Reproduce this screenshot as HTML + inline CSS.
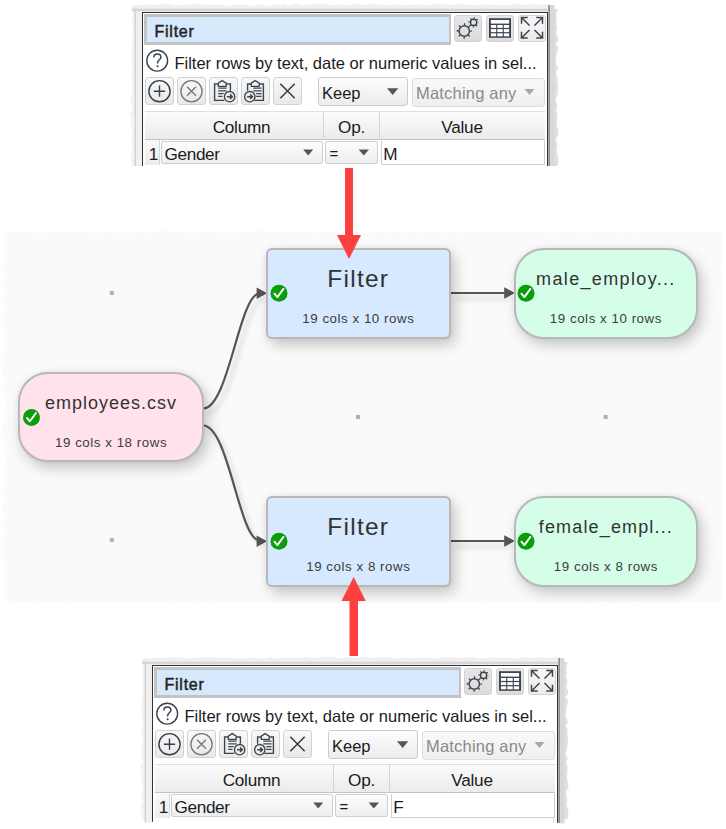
<!DOCTYPE html>
<html><head><meta charset="utf-8">
<style>
*{box-sizing:border-box}
html,body{margin:0;padding:0}
body{width:726px;height:829px;background:#fff;position:relative;overflow:hidden;font-family:"Liberation Sans",sans-serif}
.a{position:absolute}
.node{position:absolute;border:2px solid #b8b8b8;box-shadow:4px 6px 14px rgba(0,0,0,0.21),0 0 5px rgba(0,0,0,0.05)}
.ttl{position:absolute;left:0;right:0;text-align:center;color:#333;white-space:nowrap;line-height:1}
.sub{position:absolute;left:0;right:0;text-align:center;color:#3c3c3c;font-size:13.3px;letter-spacing:0.55px;white-space:nowrap;line-height:1}
.chk{position:absolute;width:17px;height:17px}
.panel .btn{position:absolute;border:1px solid #d2d2d2;border-radius:3px;background:linear-gradient(#f8f8f8,#e9e9e9)}
.panel .txt{position:absolute;white-space:nowrap;color:#1b1b1b;font-size:16px;line-height:1}
</style></head><body>

<!-- diagram background -->
<svg class="a" style="left:0;top:0" width="726" height="829">
  <polygon fill="#fafafa" points="4.0,231.6 6.9,232.4 9.5,232.1 13.1,230.9 17.1,230.9 20.9,231.0 23.6,231.8 28.6,231.1 31.7,232.3 37.2,232.2 40.8,233.1 43.4,232.9 46.7,231.1 49.5,231.5 54.5,231.2 58.8,232.3 62.4,232.1 65.0,230.9 68.0,232.4 71.8,231.6 76.1,231.9 79.4,232.7 84.1,231.4 88.3,232.1 93.5,232.6 96.8,233.2 99.6,231.8 104.4,231.2 108.4,230.9 112.9,232.6 117.2,232.9 120.6,232.5 124.9,232.2 128.7,232.8 134.2,231.9 138.7,230.9 143.3,232.4 148.9,232.8 152.2,231.7 156.7,230.9 160.6,231.2 163.4,230.9 168.3,231.1 171.5,231.7 176.6,231.0 180.5,232.1 185.7,232.8 190.9,231.5 194.6,231.7 199.8,233.1 202.7,231.2 205.9,231.4 209.8,232.2 213.0,230.8 216.8,231.7 221.0,233.1 225.6,232.0 230.0,232.4 232.6,233.0 237.5,232.9 242.4,231.7 246.1,231.0 250.5,230.9 253.1,231.3 256.0,231.6 258.6,230.8 261.5,231.0 265.1,230.9 270.3,232.3 273.1,231.4 276.6,231.7 279.4,232.8 285.0,231.9 289.0,231.0 291.7,231.6 294.9,232.8 297.9,230.9 303.3,232.1 306.2,232.1 308.7,232.1 314.2,232.9 318.8,231.4 322.4,231.2 327.3,232.1 332.2,231.6 335.3,232.7 340.8,232.8 345.8,232.8 350.6,231.3 354.6,231.7 357.1,230.9 360.4,231.4 365.0,233.1 368.9,233.0 374.4,233.1 378.0,231.3 381.1,231.3 384.2,232.3 389.4,232.8 393.4,232.4 398.3,231.0 402.9,233.0 407.8,232.6 411.7,231.2 416.6,231.6 421.6,233.1 425.2,231.8 430.7,232.5 433.6,231.1 436.5,233.0 441.5,231.2 446.5,233.2 451.0,231.6 455.2,231.1 457.6,233.1 462.1,232.1 467.5,231.8 472.7,232.8 475.8,231.4 479.1,231.4 483.4,231.4 487.1,231.1 492.4,231.6 496.3,232.2 501.6,231.8 506.9,232.0 511.0,232.1 513.5,231.9 516.5,230.8 521.4,231.2 525.3,232.5 529.5,231.6 533.6,232.1 538.5,231.1 542.7,231.4 546.0,232.7 550.0,232.1 554.8,233.0 558.6,232.3 562.7,232.0 567.3,231.9 571.4,231.9 576.8,232.5 582.0,233.1 585.2,232.1 590.7,232.8 593.5,231.1 597.3,231.0 600.5,231.0 605.0,232.7 610.3,231.2 615.0,232.4 617.8,232.9 623.3,231.3 628.8,231.8 632.7,233.2 637.8,231.2 641.6,232.0 645.1,231.3 648.5,232.5 651.0,232.1 654.8,230.8 658.2,232.3 662.3,231.0 667.8,232.7 673.3,231.1 676.6,230.9 681.5,231.4 684.3,231.8 689.6,232.8 692.8,231.2 698.2,232.2 702.8,231.0 705.4,232.5 709.2,231.0 714.6,232.3 719.5,231.0 722.0,231.0 722.9,232.0 721.6,235.9 723.0,240.0 721.1,243.3 721.4,247.4 721.2,250.1 721.3,252.7 721.5,256.1 721.5,260.9 721.2,264.9 720.8,268.4 720.8,271.6 722.1,276.4 721.9,279.4 721.1,284.8 721.8,289.8 722.8,293.8 722.0,297.4 723.2,302.0 722.8,305.5 722.3,310.2 721.6,313.9 721.1,316.5 722.6,319.1 721.2,322.3 722.8,325.0 722.4,330.2 721.4,333.5 721.9,336.8 721.9,339.7 723.1,342.9 722.1,348.5 723.1,351.6 721.7,355.0 721.7,357.4 722.0,361.3 722.0,364.4 721.4,366.8 721.8,369.5 720.9,372.0 721.4,375.4 722.1,379.7 722.4,384.5 722.9,389.2 721.6,392.8 721.2,398.4 722.3,403.1 722.8,405.6 722.3,410.9 722.7,415.6 722.1,418.5 722.8,422.5 722.8,427.5 722.9,431.7 722.5,436.3 720.9,439.4 721.7,442.3 722.8,445.0 722.3,449.2 722.4,453.6 720.8,457.6 722.6,462.5 722.1,466.5 721.0,471.0 721.4,475.8 721.4,478.4 721.3,483.2 723.1,487.9 721.7,491.9 722.4,495.8 722.3,500.7 721.0,505.2 721.4,508.0 721.5,512.8 720.8,517.0 721.4,519.6 722.5,524.2 721.5,528.7 721.9,532.8 721.1,536.7 721.3,541.9 723.0,547.5 721.9,549.9 723.1,554.9 721.4,558.8 723.1,561.9 722.2,564.9 722.1,567.8 721.1,573.2 722.0,578.3 722.5,583.5 723.0,586.6 720.9,590.6 722.0,593.0 721.5,596.8 721.6,599.7 722.8,602.0 722.0,602.3 721.5,600.8 718.6,601.9 713.4,601.8 708.4,601.8 703.1,600.8 700.0,602.5 697.0,601.7 691.4,602.9 687.7,601.7 683.5,601.5 678.0,601.5 674.7,601.8 670.1,601.2 667.4,602.3 663.2,601.7 660.5,601.0 656.4,602.7 653.3,601.5 650.3,602.4 646.9,600.8 643.8,602.4 639.5,601.4 636.4,601.1 632.9,601.3 628.5,602.2 625.7,603.1 620.9,601.4 617.0,602.9 613.4,603.0 609.2,603.1 606.2,601.1 602.8,600.9 597.5,602.8 592.5,601.9 589.7,603.2 585.2,602.7 582.1,602.0 576.5,601.8 573.1,602.2 567.9,601.2 564.7,601.4 561.6,602.6 558.0,602.2 554.7,602.8 551.9,602.4 546.8,602.6 542.2,602.3 538.5,601.4 534.7,602.5 530.7,601.0 528.0,601.4 522.5,602.9 516.9,601.6 512.7,600.9 510.1,601.4 505.3,601.3 502.7,602.7 499.1,601.6 495.7,602.3 490.8,602.8 486.0,602.7 483.1,603.0 479.1,601.8 475.9,601.7 470.4,603.1 466.5,601.4 464.0,603.1 459.6,603.0 454.8,600.8 451.5,601.6 446.8,601.4 442.4,603.1 439.2,601.6 433.9,602.6 430.7,603.0 428.1,600.9 425.5,602.6 420.5,601.8 418.0,603.0 414.5,601.3 409.1,601.7 405.2,600.9 401.4,602.8 396.4,601.7 393.3,603.1 390.5,603.1 387.0,601.5 384.6,601.2 381.1,601.7 377.5,602.4 375.0,602.6 369.6,601.2 366.2,603.0 360.6,602.6 355.4,603.0 351.7,600.9 349.1,601.1 343.6,601.3 340.0,601.2 334.5,602.4 330.8,601.3 327.8,602.0 322.3,601.5 317.5,601.3 314.4,602.8 311.0,603.1 307.9,602.0 303.1,602.7 300.1,602.4 296.4,601.6 293.9,601.3 288.5,602.4 285.3,601.8 280.7,602.0 278.2,601.5 273.6,603.1 270.4,601.4 266.5,602.9 262.0,603.1 258.1,601.5 255.7,602.2 252.6,601.7 248.3,602.1 245.7,601.1 241.1,602.3 237.9,601.1 234.5,602.3 229.1,601.4 224.2,600.9 220.1,601.9 215.2,602.4 210.5,603.1 205.9,602.1 203.0,601.1 199.9,603.1 194.7,602.8 189.3,601.7 186.9,602.2 183.0,602.9 178.4,600.9 175.9,602.9 170.8,603.1 166.9,601.8 163.8,601.5 160.7,602.9 156.2,602.0 153.4,603.1 150.2,600.9 146.7,601.7 142.6,601.8 138.9,602.6 133.6,602.2 130.4,601.4 127.7,601.6 125.0,601.3 122.2,601.9 116.6,603.0 113.5,602.0 108.2,601.3 105.3,601.2 101.6,602.1 98.2,602.4 95.0,603.1 90.3,601.5 86.8,601.9 83.9,603.0 81.4,601.5 76.9,602.6 73.1,602.6 70.5,602.5 66.4,603.1 61.0,602.3 56.0,602.9 50.6,601.7 47.6,602.0 44.3,601.4 38.9,601.5 33.9,601.0 31.3,601.5 27.5,601.7 23.3,603.2 19.6,601.7 16.3,603.0 11.6,603.0 8.8,602.8 4.0,600.8 3.2,602.0 4.1,600.6 5.2,598.1 4.7,594.9 3.8,589.5 3.6,585.0 4.4,580.8 3.3,578.4 4.8,574.7 4.4,569.5 2.9,566.8 5.3,563.6 3.9,560.8 3.1,556.4 4.3,552.1 3.6,549.0 3.6,546.3 2.6,543.9 3.2,539.4 5.2,536.5 3.8,532.5 2.9,528.1 2.5,525.6 4.5,522.2 5.5,518.0 3.3,513.5 2.6,508.5 3.0,503.7 4.8,499.9 4.2,496.3 3.3,490.8 3.7,485.8 5.5,481.4 5.1,478.7 4.2,474.4 3.6,469.2 4.1,464.8 4.9,462.0 5.2,459.1 5.3,454.5 3.0,451.6 3.5,449.1 3.3,445.0 5.3,442.0 2.9,438.0 3.3,433.0 3.0,427.7 3.6,422.9 5.3,420.3 3.0,415.3 5.4,410.0 5.4,406.0 4.9,403.0 5.5,398.3 2.9,393.1 3.6,387.7 2.7,383.7 4.8,379.6 2.7,374.9 2.6,370.5 3.8,366.4 3.8,363.7 2.8,360.9 3.0,357.0 4.8,353.1 3.2,348.3 4.4,344.3 3.8,341.8 4.5,338.0 4.2,334.3 3.4,330.5 4.2,326.1 2.9,321.8 2.6,316.7 4.2,311.9 5.2,309.4 3.2,304.6 3.7,301.8 3.7,297.8 3.0,294.7 5.0,289.6 3.2,285.9 3.0,281.0 4.4,276.0 3.7,270.7 2.7,265.3 5.4,261.4 2.9,256.0 5.4,252.9 4.0,248.0 5.3,245.2 3.3,241.1 4.0,238.3 4.4,234.7 5.2,232.0"/>
  <!-- grid dots -->
  <rect x="109.8" y="291" width="4" height="4" fill="#b0b0b0"/>
  <rect x="109.8" y="538.1" width="4" height="4" fill="#b0b0b0"/>
  <rect x="356" y="415" width="4" height="4" fill="#b0b0b0"/>
  <rect x="603.7" y="415" width="4" height="4" fill="#b0b0b0"/>
  <!-- edges -->
  <defs><filter id="esh" x="-20%" y="-20%" width="140%" height="140%"><feGaussianBlur stdDeviation="2.5"/></filter></defs>
  <g fill="none" stroke="rgba(0,0,0,0.13)" stroke-width="3" filter="url(#esh)" transform="translate(4,5)">
    <path d="M203,408.5 C229,408.5 239,293.2 260,293.2"/>
    <path d="M203,425.5 C229,425.5 239,540.8 260,540.8"/>
    <path d="M451,293 L507,293"/>
    <path d="M451,541 L507,541"/>
  </g>
  <g fill="none" stroke="#555" stroke-width="2.2">
    <path d="M203,408.5 C229,408.5 239,293.2 260,293.2"/>
    <path d="M203,425.5 C229,425.5 239,540.8 260,540.8"/>
    <path d="M451,293 L507,293"/>
    <path d="M451,541 L507,541"/>
  </g>
  <g fill="#555">
    <polygon points="256.6,287.4 267.2,293.2 256.6,299"/>
    <polygon points="256.6,535.4 267.2,541.2 256.6,547"/>
    <polygon points="504.2,287.2 514.8,293 504.2,298.8"/>
    <polygon points="504.2,535.2 514.8,541 504.2,546.8"/>
  </g>
</svg>

<!-- nodes -->
<div class="node" style="left:18.3px;top:371.6px;width:185.5px;height:90.6px;border-radius:30px;background:#ffe2eb">
  <div class="ttl" style="top:20.5px;font-size:18px;letter-spacing:1px">employees.csv</div>
  <div class="sub" style="top:62.9px">19 cols x 18 rows</div>
</div>
<div class="node" style="left:265.6px;top:247.6px;width:185.4px;height:91px;border-radius:6px;background:#d6e9fe">
  <div class="ttl" style="top:17.2px;font-size:24.5px;letter-spacing:1.25px">Filter</div>
  <div class="sub" style="top:62.9px">19 cols x 10 rows</div>
</div>
<div class="node" style="left:513.6px;top:247.6px;width:184.6px;height:91px;border-radius:30px;background:#d5fee9">
  <div class="ttl" style="top:20.3px;font-size:18px;letter-spacing:1.35px">male_employ...</div>
  <div class="sub" style="top:62.9px">19 cols x 10 rows</div>
</div>
<div class="node" style="left:265.6px;top:495.6px;width:185.4px;height:91px;border-radius:6px;background:#d6e9fe">
  <div class="ttl" style="top:17.2px;font-size:24.5px;letter-spacing:1.25px">Filter</div>
  <div class="sub" style="top:62.9px">19 cols x 8 rows</div>
</div>
<div class="node" style="left:513.6px;top:495.6px;width:184.6px;height:91px;border-radius:30px;background:#d5fee9">
  <div class="ttl" style="top:20px;font-size:18px;letter-spacing:1.15px">female_empl...</div>
  <div class="sub" style="top:62.9px">19 cols x 8 rows</div>
</div>

<!-- check icons -->
<svg class="a" style="left:0;top:0" width="726" height="829">
  <defs><g id="ck"><circle cx="0" cy="0" r="8.5" fill="#0a9e0a"/><path d="M-4.6,0.4 L-1.6,3.8 L4.4,-4.4" fill="none" stroke="#fff" stroke-width="1.9" stroke-linecap="round" stroke-linejoin="round"/></g></defs>
  <use href="#ck" x="31.5" y="417.5"/>
  <use href="#ck" x="279" y="293.3"/>
  <use href="#ck" x="526" y="293.3"/>
  <use href="#ck" x="279" y="541.3"/>
  <use href="#ck" x="526" y="541.3"/>
  <!-- red arrows -->
  <g fill="#fc4040">
    <rect x="345" y="168" width="8" height="68"/>
    <polygon points="337,235 361,235 349,259"/>
    <rect x="349.5" y="600" width="8.5" height="56"/>
    <polygon points="341.5,601 365.8,601 353.6,577"/>
  </g>
</svg>

<!-- PANELS inserted below -->
<div class="panel a" style="left:0;top:0;width:726px;height:180px">
<svg class="a" style="left:0;top:0" width="726" height="180">
  <!-- torn shadow backdrop -->
  <polygon fill="#f0f0f0" points="132,6 136.0,4.7 141.2,5.6 146.1,4.8 151.5,4.2 156.5,5.0 162.7,4.1 166.9,4.1 173.1,5.1 176.3,5.7 183.1,5.1 188.6,4.2 191.7,4.9 194.9,4.2 198.9,4.0 203.7,4.7 210.1,4.8 215.7,4.8 221.3,4.7 225.4,5.7 232.4,5.4 238.2,4.5 242.2,4.4 245.4,5.3 250.0,5.4 254.6,5.6 261.0,3.9 264.8,5.5 269.7,5.7 274.3,4.0 279.8,5.3 283.9,4.1 288.2,5.6 294.2,4.1 298.2,4.1 301.5,5.3 305.2,4.9 310.0,4.2 315.9,4.1 321.5,4.1 326.2,4.3 330.2,5.6 336.4,4.4 343.0,4.3 347.6,5.4 353.1,4.1 360.1,4.3 364.1,5.3 368.4,4.4 371.7,4.1 377.1,4.3 382.5,4.6 387.3,5.6 392.2,4.9 398.7,4.2 402.3,5.5 408.6,4.3 412.3,5.2 419.1,4.3 425.9,5.5 431.3,4.7 434.7,4.0 441.6,4.3 447.4,4.4 453.7,5.0 457.9,4.2 463.7,4.0 467.7,4.9 474.1,5.0 478.2,5.6 482.0,3.9 486.1,4.7 489.3,4.2 493.8,4.9 497.3,4.6 503.9,5.7 509.5,5.1 514.8,4.2 518.0,3.9 524.6,5.2 531.5,3.9 537.0,4.8 542.9,4.5 549.0,4.0 549.0,12.0 132,12"/>
  <polygon fill="#f3f3f3" points="131.6,9.0 132.8,14.9 132.2,20.9 132.8,27.1 132.1,31.5 132.7,38.1 132.4,42.7 131.7,49.2 131.1,54.7 131.8,60.0 131.9,63.4 132.7,70.3 131.1,76.2 131.8,82.2 132.6,86.9 132.3,90.3 131.8,93.4 130.6,98.3 131.5,104.1 132.8,109.6 129.9,113.6 132.1,117.8 130.4,121.6 132.0,128.2 132.8,133.0 132.0,137.3 131.3,141.1 132.8,147.3 131.1,153.8 130.9,159.2 131.5,162.7 132.6,166.0 134.5,166.0 134.5,9.0"/>
  <polygon fill="#e0e0e0" points="553.5,9.0 557.7,9.0 556.3,15.8 556.8,19.5 556.1,23.6 557.4,28.2 556.4,33.2 558.5,39.6 555.6,44.4 558.2,47.5 557.7,50.7 556.4,55.9 555.5,62.1 556.9,65.7 558.1,68.8 555.9,72.7 557.4,75.9 557.4,80.7 558.0,86.3 557.6,93.1 556.9,96.9 555.4,100.6 557.7,105.5 556.3,109.3 557.6,113.6 557.4,118.7 556.7,124.7 558.3,130.9 558.4,134.3 555.8,140.1 557.4,145.0 556.6,151.6 558.2,156.9 558.4,163.1 557.5,166.0 553.5,166.0"/>
  <rect x="136" y="11" width="413" height="155" fill="#f0f0f0"/>
  <rect x="132" y="8.7" width="417" height="2.5" fill="#d6d6d6"/>
  <rect x="134.5" y="8.7" width="1.5" height="157.3" fill="#d2d2d2"/>
  <rect x="548" y="5" width="1.1" height="161" fill="#a8a8a8"/><rect x="549.1" y="5" width="1" height="161" fill="#858585"/>
  <rect x="550.1" y="5" width="4.4" height="161" fill="#d8d8d8"/>
  <!-- dark border + white interior -->
  <rect x="142" y="12" width="406" height="154" fill="#333"/>
  <rect x="143" y="13" width="404" height="153" fill="#fff"/>
</svg>
<!-- filter text field -->
<div class="a" style="left:144px;top:14px;width:307px;height:30.5px;background:#d6e8fb;border:3.8px solid #c3c3c3;border-right-width:2.5px;border-bottom-width:3px"></div>
<div class="txt" style="left:154.5px;top:23.6px;font-size:16px;letter-spacing:0.75px;-webkit-text-stroke:0.45px #222;color:#222">Filter</div>
<!-- top right buttons -->
<div class="btn" style="left:454px;top:14.5px;width:28px;height:27px;background:linear-gradient(#e6e6e6,#dcdcdc)"></div>
<div class="btn" style="left:486px;top:14.5px;width:28px;height:27px;background:linear-gradient(#e6e6e6,#dcdcdc)"></div>
<div class="btn" style="left:517.5px;top:14.5px;width:28px;height:27px;background:linear-gradient(#f6f6f6,#ececec)"></div>
<!-- help row -->
<div class="txt" style="left:174.4px;top:54.9px;font-size:16.5px">Filter rows by text, date or numeric values in sel...</div>
<!-- toolbar buttons -->
<div class="btn" style="left:145.2px;top:77.4px;width:28.6px;height:28px"></div>
<div class="btn" style="left:177.2px;top:77.4px;width:28.6px;height:28px"></div>
<div class="btn" style="left:209.2px;top:77.4px;width:28.4px;height:28px"></div>
<div class="btn" style="left:241.2px;top:77.4px;width:28.6px;height:28px"></div>
<div class="btn" style="left:273.2px;top:77.4px;width:28.6px;height:28px"></div>
<!-- combos -->
<div class="btn" style="left:318px;top:77.3px;width:89.5px;height:29px;border-color:#cdcdcd;background:linear-gradient(#fdfdfd,#ececec)"></div>
<div class="txt" style="left:322px;top:85.2px;font-size:16.5px">Keep</div>
<div class="btn" style="left:411.5px;top:77.5px;width:133px;height:29px;border-color:#dedede;background:linear-gradient(#f9f9f9,#efefef)"></div>
<div class="txt" style="left:416px;top:85.4px;font-size:16.5px;letter-spacing:0.2px;color:#8a8a8a">Matching any</div>
<!-- table -->
<div class="a" style="left:145px;top:110.5px;width:399.5px;height:29.5px;background:linear-gradient(#fbfbfb,#ebebeb);border-top:1px solid #e0e0e0;border-bottom:1.5px solid #c2c2c2"></div>
<div class="a" style="left:323px;top:111px;width:1px;height:27px;background:#d4d4d4"></div>
<div class="a" style="left:379px;top:111px;width:1px;height:27px;background:#d4d4d4"></div>
<div class="txt" style="left:160px;width:163px;text-align:center;top:119px;font-size:17.2px;letter-spacing:-0.25px">Column</div>
<div class="txt" style="left:324px;width:55px;text-align:center;top:119px;font-size:17.2px;letter-spacing:-0.25px">Op.</div>
<div class="txt" style="left:380px;width:164px;text-align:center;top:119px;font-size:17.2px;letter-spacing:-0.25px">Value</div>
<!-- row -->
<div class="a" style="left:145px;top:140px;width:15px;height:25px;background:linear-gradient(#f9f9f9,#ececec);border-right:1px solid #d8d8d8"></div>
<div class="txt" style="left:148.8px;top:145.9px;font-size:17.2px">1</div>
<div class="btn" style="left:160.5px;top:141px;width:162px;height:23px;border-radius:2px;border-color:#cfcfcf;background:linear-gradient(#fdfdfd,#eeeeee)"></div>
<div class="txt" style="left:164.6px;top:145.9px;font-size:17.2px;letter-spacing:-0.4px">Gender</div>
<div class="btn" style="left:324.5px;top:141px;width:53.5px;height:23px;border-radius:2px;border-color:#cfcfcf;background:linear-gradient(#fdfdfd,#eeeeee)"></div>
<div class="txt" style="left:329.5px;top:145.6px;font-size:15px">=</div>
<div class="a" style="left:380.5px;top:140.5px;width:164px;height:24.5px;background:#fff;border:1px solid #cfcfcf;border-top:none"></div>
<div class="txt" style="left:383.2px;top:145.9px;font-size:17.2px">M</div>
<svg class="a" style="left:0;top:0" width="726" height="180">
  <!-- dropdown arrows -->
  <g fill="#555">
    <polygon points="387,88.3 398.3,88.3 392.65,95"/>
    <polygon points="303.2,149.6 313.2,149.6 308.2,155.5"/>
    <polygon points="358.6,149.6 369,149.6 363.8,155.5"/>
  </g>
  <polygon fill="#a8a8a8" points="524.5,89 534.5,89 529.5,95"/>
  <!-- help icon -->
  <circle cx="157.2" cy="60.7" r="10.4" fill="none" stroke="#3a434c" stroke-width="1.4"/>
  <path d="M153.8,57.6 C153.8,55.2 155.5,54 157.4,54 C159.4,54 160.9,55.3 160.9,57.2 C160.9,59.6 157.6,60 157.6,62.8 V63.4" fill="none" stroke="#3a434c" stroke-width="1.5"/><circle cx="157.6" cy="66.2" r="1" fill="#3a434c"/>
  <!-- plus circle -->
  <g fill="none" stroke="#36404a" stroke-width="1.4">
    <circle cx="159.5" cy="91.2" r="10.6"/>
    <path d="M153.9,91.2 H165.1 M159.5,85.6 V96.8"/>
  </g>
  <g fill="none" stroke="#777" stroke-width="1.3">
    <circle cx="191.5" cy="91.2" r="10.6"/>
    <path d="M187,86.7 L196,95.7 M196,86.7 L187,95.7"/>
  </g>
  <!-- clipboard 1 -->
  <g fill="none" stroke="#3d4650" stroke-width="1.4">
    <path d="M218.3,84 H214.6 V100.4 H224.2"/>
    <path d="M226.2,84 H230.4 V90.8"/>
    <path d="M218.3,86.3 V83.2 L222.2,80.6 L226.2,83.2 V86.3 Z" stroke-width="1.3"/>
    <path d="M218.2,88.2 H226.6 M218.2,90.9 H226.6 M218.2,93.6 H223.6 M218.2,96.3 H222.4" stroke-width="1.2"/>
    <circle cx="229.6" cy="96.7" r="5.2"/>
    <path d="M226.9,96.7 H232.2 M230,94.4 L232.3,96.7 L230,99" stroke-width="1.5"/>
  </g>
  <g fill="none" stroke="#3d4650" stroke-width="1.4">
    <path d="M251.3,84 H247.6 V90.8"/>
    <path d="M259.2,84 H263.4 V100.4 H254.4"/>
    <path d="M251.3,86.3 V83.2 L255.2,80.6 L259.2,83.2 V86.3 Z" stroke-width="1.3"/>
    <path d="M253.3,88.2 H261.6 M253.3,90.9 H261.6 M256.2,93.6 H261.6 M256.2,96.3 H261.6" stroke-width="1.2"/>
    <circle cx="249.8" cy="96.7" r="5.2"/>
    <path d="M247.1,96.7 H252.4 M250.2,94.4 L252.5,96.7 L250.2,99" stroke-width="1.5"/>
  </g>
  <!-- big X -->
  <path d="M280.3,83.8 L294.7,98.2 M294.7,83.8 L280.3,98.2" stroke="#3a3a3a" stroke-width="1.5" fill="none"/>
  <!-- gear icon -->
  <g fill="none" stroke="#3d4650">
    <circle cx="464.3" cy="31" r="5.2" stroke-width="1.5"/>
    <circle cx="464.3" cy="31" r="6.6" stroke-width="2.2" stroke-dasharray="1.3 3.88" stroke-dashoffset="0.6"/>
    <circle cx="473.6" cy="22.4" r="3.1" stroke-width="1.4"/>
    <circle cx="473.6" cy="22.4" r="4.3" stroke-width="1.8" stroke-dasharray="1.1 2.28" stroke-dashoffset="0.5"/>
  </g>
  <!-- table icon -->
  <rect x="489" y="18.2" width="22" height="19.6" fill="#3d4650"/>
  <g fill="#fff">
    <rect x="490.9" y="20" width="18.2" height="3.6"/>
    <rect x="490.9" y="25" width="5.3" height="2.9"/><rect x="497.3" y="25" width="5.4" height="2.9"/><rect x="503.8" y="25" width="5.3" height="2.9"/>
    <rect x="490.9" y="29.1" width="5.3" height="3"/><rect x="497.3" y="29.1" width="5.4" height="3"/><rect x="503.8" y="29.1" width="5.3" height="3"/>
    <rect x="490.9" y="33.3" width="5.3" height="3"/><rect x="497.3" y="33.3" width="5.4" height="3"/><rect x="503.8" y="33.3" width="5.3" height="3"/>
  </g>
  <!-- fullscreen icon -->
  <g fill="none" stroke="#3d4650" stroke-width="1.5" stroke-linecap="square">
    <path d="M521.5,17.5 L529,25 M521.5,17.5 H527 M521.5,17.5 V23"/>
    <path d="M542.5,17.5 L535,25 M542.5,17.5 H537 M542.5,17.5 V23"/>
    <path d="M521.5,38 L529,30.5 M521.5,38 H527 M521.5,38 V32.5"/>
    <path d="M542.5,38 L535,30.5 M542.5,38 H537 M542.5,38 V32.5"/>
  </g>
</svg>
</div>

<div class="panel a" style="left:10px;top:653px;width:726px;height:180px">
<svg class="a" style="left:0;top:0" width="726" height="180">
  <!-- torn shadow backdrop -->
  <polygon fill="#f0f0f0" points="132,6 136.0,4.7 141.2,5.6 146.1,4.8 151.5,4.2 156.5,5.0 162.7,4.1 166.9,4.1 173.1,5.1 176.3,5.7 183.1,5.1 188.6,4.2 191.7,4.9 194.9,4.2 198.9,4.0 203.7,4.7 210.1,4.8 215.7,4.8 221.3,4.7 225.4,5.7 232.4,5.4 238.2,4.5 242.2,4.4 245.4,5.3 250.0,5.4 254.6,5.6 261.0,3.9 264.8,5.5 269.7,5.7 274.3,4.0 279.8,5.3 283.9,4.1 288.2,5.6 294.2,4.1 298.2,4.1 301.5,5.3 305.2,4.9 310.0,4.2 315.9,4.1 321.5,4.1 326.2,4.3 330.2,5.6 336.4,4.4 343.0,4.3 347.6,5.4 353.1,4.1 360.1,4.3 364.1,5.3 368.4,4.4 371.7,4.1 377.1,4.3 382.5,4.6 387.3,5.6 392.2,4.9 398.7,4.2 402.3,5.5 408.6,4.3 412.3,5.2 419.1,4.3 425.9,5.5 431.3,4.7 434.7,4.0 441.6,4.3 447.4,4.4 453.7,5.0 457.9,4.2 463.7,4.0 467.7,4.9 474.1,5.0 478.2,5.6 482.0,3.9 486.1,4.7 489.3,4.2 493.8,4.9 497.3,4.6 503.9,5.7 509.5,5.1 514.8,4.2 518.0,3.9 524.6,5.2 531.5,3.9 537.0,4.8 542.9,4.5 549.0,4.0 549.0,12.0 132,12"/>
  <polygon fill="#f3f3f3" points="131.6,9.0 132.8,14.9 132.2,20.9 132.8,27.1 132.1,31.5 132.7,38.1 132.4,42.7 131.7,49.2 131.1,54.7 131.8,60.0 131.9,63.4 132.7,70.3 131.1,76.2 131.8,82.2 132.6,86.9 132.3,90.3 131.8,93.4 130.6,98.3 131.5,104.1 132.8,109.6 129.9,113.6 132.1,117.8 130.4,121.6 132.0,128.2 132.8,133.0 132.0,137.3 131.3,141.1 132.8,147.3 131.1,153.8 130.9,159.2 131.5,162.7 132.6,166.0 134.5,166.0 134.5,9.0"/>
  <polygon fill="#e0e0e0" points="553.5,9.0 557.7,9.0 556.3,15.8 556.8,19.5 556.1,23.6 557.4,28.2 556.4,33.2 558.5,39.6 555.6,44.4 558.2,47.5 557.7,50.7 556.4,55.9 555.5,62.1 556.9,65.7 558.1,68.8 555.9,72.7 557.4,75.9 557.4,80.7 558.0,86.3 557.6,93.1 556.9,96.9 555.4,100.6 557.7,105.5 556.3,109.3 557.6,113.6 557.4,118.7 556.7,124.7 558.3,130.9 558.4,134.3 555.8,140.1 557.4,145.0 556.6,151.6 558.2,156.9 558.4,163.1 557.5,166.0 553.5,166.0"/>
  <rect x="136" y="11" width="413" height="155" fill="#f0f0f0"/>
  <rect x="132" y="8.7" width="417" height="2.5" fill="#d6d6d6"/>
  <rect x="134.5" y="8.7" width="1.5" height="157.3" fill="#d2d2d2"/>
  <rect x="548" y="5" width="1.1" height="161" fill="#a8a8a8"/><rect x="549.1" y="5" width="1" height="161" fill="#858585"/>
  <rect x="550.1" y="5" width="4.4" height="161" fill="#d8d8d8"/>
  <!-- dark border + white interior -->
  <rect x="142" y="12" width="406" height="154" fill="#333"/>
  <rect x="143" y="13" width="404" height="153" fill="#fff"/>
</svg>
<!-- filter text field -->
<div class="a" style="left:144px;top:14px;width:307px;height:30.5px;background:#d6e8fb;border:3.8px solid #c3c3c3;border-right-width:2.5px;border-bottom-width:3px"></div>
<div class="txt" style="left:154.5px;top:23.6px;font-size:16px;letter-spacing:0.75px;-webkit-text-stroke:0.45px #222;color:#222">Filter</div>
<!-- top right buttons -->
<div class="btn" style="left:454px;top:14.5px;width:28px;height:27px;background:linear-gradient(#e6e6e6,#dcdcdc)"></div>
<div class="btn" style="left:486px;top:14.5px;width:28px;height:27px;background:linear-gradient(#e6e6e6,#dcdcdc)"></div>
<div class="btn" style="left:517.5px;top:14.5px;width:28px;height:27px;background:linear-gradient(#f6f6f6,#ececec)"></div>
<!-- help row -->
<div class="txt" style="left:174.4px;top:54.9px;font-size:16.5px">Filter rows by text, date or numeric values in sel...</div>
<!-- toolbar buttons -->
<div class="btn" style="left:145.2px;top:77.4px;width:28.6px;height:28px"></div>
<div class="btn" style="left:177.2px;top:77.4px;width:28.6px;height:28px"></div>
<div class="btn" style="left:209.2px;top:77.4px;width:28.4px;height:28px"></div>
<div class="btn" style="left:241.2px;top:77.4px;width:28.6px;height:28px"></div>
<div class="btn" style="left:273.2px;top:77.4px;width:28.6px;height:28px"></div>
<!-- combos -->
<div class="btn" style="left:318px;top:77.3px;width:89.5px;height:29px;border-color:#cdcdcd;background:linear-gradient(#fdfdfd,#ececec)"></div>
<div class="txt" style="left:322px;top:85.2px;font-size:16.5px">Keep</div>
<div class="btn" style="left:411.5px;top:77.5px;width:133px;height:29px;border-color:#dedede;background:linear-gradient(#f9f9f9,#efefef)"></div>
<div class="txt" style="left:416px;top:85.4px;font-size:16.5px;letter-spacing:0.2px;color:#8a8a8a">Matching any</div>
<!-- table -->
<div class="a" style="left:145px;top:110.5px;width:399.5px;height:29.5px;background:linear-gradient(#fbfbfb,#ebebeb);border-top:1px solid #e0e0e0;border-bottom:1.5px solid #c2c2c2"></div>
<div class="a" style="left:323px;top:111px;width:1px;height:27px;background:#d4d4d4"></div>
<div class="a" style="left:379px;top:111px;width:1px;height:27px;background:#d4d4d4"></div>
<div class="txt" style="left:160px;width:163px;text-align:center;top:119px;font-size:17.2px;letter-spacing:-0.25px">Column</div>
<div class="txt" style="left:324px;width:55px;text-align:center;top:119px;font-size:17.2px;letter-spacing:-0.25px">Op.</div>
<div class="txt" style="left:380px;width:164px;text-align:center;top:119px;font-size:17.2px;letter-spacing:-0.25px">Value</div>
<!-- row -->
<div class="a" style="left:145px;top:140px;width:15px;height:25px;background:linear-gradient(#f9f9f9,#ececec);border-right:1px solid #d8d8d8"></div>
<div class="txt" style="left:148.8px;top:145.9px;font-size:17.2px">1</div>
<div class="btn" style="left:160.5px;top:141px;width:162px;height:23px;border-radius:2px;border-color:#cfcfcf;background:linear-gradient(#fdfdfd,#eeeeee)"></div>
<div class="txt" style="left:164.6px;top:145.9px;font-size:17.2px;letter-spacing:-0.4px">Gender</div>
<div class="btn" style="left:324.5px;top:141px;width:53.5px;height:23px;border-radius:2px;border-color:#cfcfcf;background:linear-gradient(#fdfdfd,#eeeeee)"></div>
<div class="txt" style="left:329.5px;top:145.6px;font-size:15px">=</div>
<div class="a" style="left:380.5px;top:140.5px;width:164px;height:24.5px;background:#fff;border:1px solid #cfcfcf;border-top:none"></div>
<div class="txt" style="left:383.2px;top:145.9px;font-size:17.2px">F</div>
<svg class="a" style="left:0;top:0" width="726" height="180">
  <!-- dropdown arrows -->
  <g fill="#555">
    <polygon points="387,88.3 398.3,88.3 392.65,95"/>
    <polygon points="303.2,149.6 313.2,149.6 308.2,155.5"/>
    <polygon points="358.6,149.6 369,149.6 363.8,155.5"/>
  </g>
  <polygon fill="#a8a8a8" points="524.5,89 534.5,89 529.5,95"/>
  <!-- help icon -->
  <circle cx="157.2" cy="60.7" r="10.4" fill="none" stroke="#3a434c" stroke-width="1.4"/>
  <path d="M153.8,57.6 C153.8,55.2 155.5,54 157.4,54 C159.4,54 160.9,55.3 160.9,57.2 C160.9,59.6 157.6,60 157.6,62.8 V63.4" fill="none" stroke="#3a434c" stroke-width="1.5"/><circle cx="157.6" cy="66.2" r="1" fill="#3a434c"/>
  <!-- plus circle -->
  <g fill="none" stroke="#36404a" stroke-width="1.4">
    <circle cx="159.5" cy="91.2" r="10.6"/>
    <path d="M153.9,91.2 H165.1 M159.5,85.6 V96.8"/>
  </g>
  <g fill="none" stroke="#777" stroke-width="1.3">
    <circle cx="191.5" cy="91.2" r="10.6"/>
    <path d="M187,86.7 L196,95.7 M196,86.7 L187,95.7"/>
  </g>
  <!-- clipboard 1 -->
  <g fill="none" stroke="#3d4650" stroke-width="1.4">
    <path d="M218.3,84 H214.6 V100.4 H224.2"/>
    <path d="M226.2,84 H230.4 V90.8"/>
    <path d="M218.3,86.3 V83.2 L222.2,80.6 L226.2,83.2 V86.3 Z" stroke-width="1.3"/>
    <path d="M218.2,88.2 H226.6 M218.2,90.9 H226.6 M218.2,93.6 H223.6 M218.2,96.3 H222.4" stroke-width="1.2"/>
    <circle cx="229.6" cy="96.7" r="5.2"/>
    <path d="M226.9,96.7 H232.2 M230,94.4 L232.3,96.7 L230,99" stroke-width="1.5"/>
  </g>
  <g fill="none" stroke="#3d4650" stroke-width="1.4">
    <path d="M251.3,84 H247.6 V90.8"/>
    <path d="M259.2,84 H263.4 V100.4 H254.4"/>
    <path d="M251.3,86.3 V83.2 L255.2,80.6 L259.2,83.2 V86.3 Z" stroke-width="1.3"/>
    <path d="M253.3,88.2 H261.6 M253.3,90.9 H261.6 M256.2,93.6 H261.6 M256.2,96.3 H261.6" stroke-width="1.2"/>
    <circle cx="249.8" cy="96.7" r="5.2"/>
    <path d="M247.1,96.7 H252.4 M250.2,94.4 L252.5,96.7 L250.2,99" stroke-width="1.5"/>
  </g>
  <!-- big X -->
  <path d="M280.3,83.8 L294.7,98.2 M294.7,83.8 L280.3,98.2" stroke="#3a3a3a" stroke-width="1.5" fill="none"/>
  <!-- gear icon -->
  <g fill="none" stroke="#3d4650">
    <circle cx="464.3" cy="31" r="5.2" stroke-width="1.5"/>
    <circle cx="464.3" cy="31" r="6.6" stroke-width="2.2" stroke-dasharray="1.3 3.88" stroke-dashoffset="0.6"/>
    <circle cx="473.6" cy="22.4" r="3.1" stroke-width="1.4"/>
    <circle cx="473.6" cy="22.4" r="4.3" stroke-width="1.8" stroke-dasharray="1.1 2.28" stroke-dashoffset="0.5"/>
  </g>
  <!-- table icon -->
  <rect x="489" y="18.2" width="22" height="19.6" fill="#3d4650"/>
  <g fill="#fff">
    <rect x="490.9" y="20" width="18.2" height="3.6"/>
    <rect x="490.9" y="25" width="5.3" height="2.9"/><rect x="497.3" y="25" width="5.4" height="2.9"/><rect x="503.8" y="25" width="5.3" height="2.9"/>
    <rect x="490.9" y="29.1" width="5.3" height="3"/><rect x="497.3" y="29.1" width="5.4" height="3"/><rect x="503.8" y="29.1" width="5.3" height="3"/>
    <rect x="490.9" y="33.3" width="5.3" height="3"/><rect x="497.3" y="33.3" width="5.4" height="3"/><rect x="503.8" y="33.3" width="5.3" height="3"/>
  </g>
  <!-- fullscreen icon -->
  <g fill="none" stroke="#3d4650" stroke-width="1.5" stroke-linecap="square">
    <path d="M521.5,17.5 L529,25 M521.5,17.5 H527 M521.5,17.5 V23"/>
    <path d="M542.5,17.5 L535,25 M542.5,17.5 H537 M542.5,17.5 V23"/>
    <path d="M521.5,38 L529,30.5 M521.5,38 H527 M521.5,38 V32.5"/>
    <path d="M542.5,38 L535,30.5 M542.5,38 H537 M542.5,38 V32.5"/>
  </g>
</svg>
<svg class="a" style="left:0;top:0" width="726" height="180">
  <rect x="134.5" y="166" width="1.5" height="3.5" fill="#d2d2d2"/>
  <rect x="136" y="166" width="6" height="4" fill="#f0f0f0"/>
  <rect x="142" y="166" width="1" height="2.8" fill="#333"/>
  <rect x="543.2" y="165" width="1" height="4.5" fill="#d0d0d0"/>
  <rect x="547" y="166" width="1" height="3.8" fill="#333"/>
  <rect x="548" y="166" width="1.1" height="4" fill="#a8a8a8"/><rect x="549.1" y="166" width="1" height="4" fill="#858585"/>
  <rect x="550.1" y="166" width="4.4" height="4.5" fill="#d8d8d8"/>
</svg>
</div>

</body></html>
